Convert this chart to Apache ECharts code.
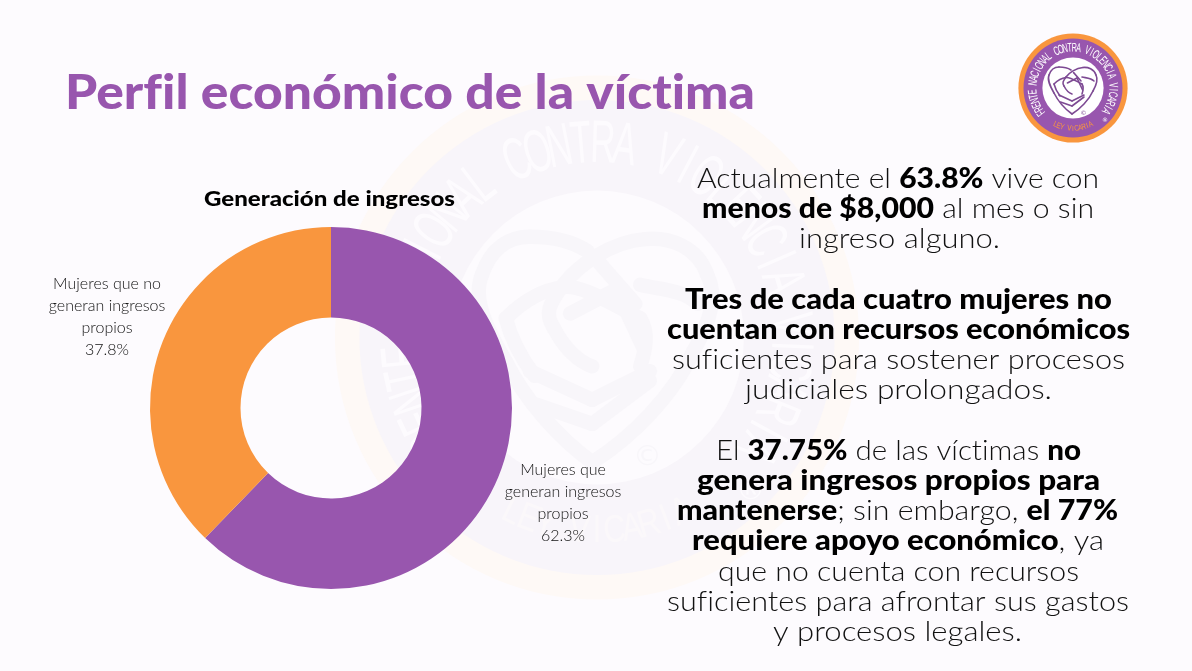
<!DOCTYPE html>
<html><head><meta charset="utf-8">
<style>html,body{margin:0;padding:0;background:#fdfbfe}#c{width:1192px;height:671px}</style>
<script src="https://cdn.jsdelivr.net/npm/echarts@6/dist/echarts.min.js"></script>
</head><body><div id="c"></div>
<script>
const categories = ["Mujeres que\ngeneran ingresos\npropios", "Mujeres que no\ngeneran ingresos\npropios"];
const shareValues = [62.3, 37.8];
const sliceColors = ["#9856ae", "#f9963e"];
const pageTitle = "Perfil económico de la víctima";
const chartTitle = "Generación de ingresos";
const paragraphLines = [
  [["Actualmente el ",0],["63.8%",1],[" vive con",0]],
  [["menos de $8,000",1],[" al mes o sin",0]],
  [["ingreso alguno.",0]],
  null,
  [["Tres de cada cuatro mujeres no",1]],
  [["cuentan con recursos económicos",1]],
  [["suficientes para sostener procesos",0]],
  [["judiciales prolongados.",0]],
  null,
  [["El ",0],["37.75%",1],[" de las víctimas ",0],["no",1]],
  [["genera ingresos propios para",1]],
  [["mantenerse",1],["; sin embargo, ",0],["el 77%",1]],
  [["requiere apoyo económico",1],[", ya",0]],
  [["que no cuenta con recursos",0]],
  [["suficientes para afrontar sus gastos",0]],
  [["y procesos legales.",0]]
];
const lineSpans = [[697,1099],[702,1094],[799,1000],null,[685,1112],[667,1130],[672,1125],[745,1052],null,[716,1081],[697,1100],[677,1118],[692,1104],[718,1079],[667,1129],[773,1022]];
const ringText = "FRENTE NACIONAL CONTRA VIOLENCIA VICARIA";
const ringFooter = "LEY VICARIA";

const FONT = "Lato";
const knotPaths = [
  "M-1 26 C-8 21 -15 13 -19 5 C-23 -2 -26 -8 -24 -13 C-22 -19 -18 -21 -14 -21 C-9 -21 -5 -20 -2 -18",
  "M-1 26 C7 21 16 12 20 3 C24 -4 25 -9 23 -13 C21 -19 15 -21 10 -20.5 C3 -20 -4 -15 -7 -11 C-10 -7 -11 -5 -9 -2 C-7 2 -4 5 -1 6",
  "M-19 -4 C-15 -8 -11 -10 -7 -10.5 C-3 -11 3 -7 9 -4 C11 -1 10 3 9 6",
  "M9 -11 C13 -10 18 -10 21 -7",
  "M-13 8 C-16 4 -18 0 -19 -4",
  "M-14 7 L-1 13 L11 7",
  "M-12.5 14 L-1 18 L11 9",
  "M-5.6 -5 L4 -10 L9.6 2",
  "M0.6 -15.4 L8 -7"
];
function knotElements(d, cx, cy, s, style) {
  const tok = d.match(/[MCL]|-?\d+(?:\.\d+)?/g), out = [];
  let i = 0, px = 0, py = 0, cmd = "";
  const num = () => +tok[i++];
  const X = v => cx + v*s, Y = v => cy + v*s;
  while (i < tok.length) {
    if (/[MCL]/.test(tok[i])) cmd = tok[i++];
    if (cmd === "M") { px = num(); py = num(); }
    else if (cmd === "L") {
      const x = num(), y = num();
      out.push({type:"line", silent:true, z:1, shape:{x1:X(px), y1:Y(py), x2:X(x), y2:Y(y)}, style});
      px = x; py = y;
    } else {
      const a = num(), b = num(), c = num(), e = num(), x = num(), y = num();
      out.push({type:"bezierCurve", silent:true, z:1, shape:{x1:X(px), y1:Y(py), cpx1:X(a), cpy1:Y(b), cpx2:X(c), cpy2:Y(e), x2:X(x), y2:Y(y)}, style});
      px = x; py = y;
    }
  }
  return out;
}
function arcChars(str, cx, cy, r, a0, a1, size, fill, squeeze, flip) {
  const n = str.length, out = [];
  for (let i = 0; i < n; i++) {
    if (str[i] === " ") continue;
    const deg = a0 + (a1 - a0) * i / (n - 1);
    const a = deg * Math.PI / 180;
    out.push({type:"text", silent:true, z:1, x:cx + r*Math.sin(a), y:cy - r*Math.cos(a),
      rotation: flip ? Math.PI - a : -a, scaleX:squeeze,
      style:{text:str[i], fill, align:"center", verticalAlign:"middle", fontFamily:"Liberation Sans", fontSize:size}});
  }
  return out;
}
function fullLogo(cx, cy, s, c) {
  const out = [];
  const circ = (r, fill) => out.push({type:"circle", silent:true, z:1, shape:{cx, cy, r:r*s}, style:{fill}});
  circ(54.6, c.orange); circ(49.5, c.band); circ(30.6, c.center);
  const st = {fill:"none", stroke:c.knot, lineWidth:c.kw*s, lineCap:"round"};
  knotPaths.forEach(d => out.push(...knotElements(d, cx, cy, s, st)));
  out.push(...arcChars(ringText, cx, cy, 40*s, -128, 125, 12.5*s, c.text, 0.58));
  out.push(...arcChars(ringFooter, cx, cy, 40.5*s, 206, 154, 8*s, c.footer, 0.8, true));
  const mark = (t, dx, dy, size, fill) => out.push({type:"text", silent:true, z:1, x:cx+dx*s, y:cy+dy*s,
    style:{text:t, fill, align:"center", verticalAlign:"middle", fontFamily:"DejaVu Sans", fontSize:size*s}});
  mark("©", 10.5, 25, 6, c.knot);
  mark("®", 32, 32, 6, c.text);
  return out;
}

const ctx = document.createElement("canvas").getContext("2d");
const LIGATURE = /(f)(?=[il])|(t)(?=[ité])/g;
// splitting a word into two runs keeps Lato from drawing its fi / ti ligatures
const runs = (t, key) => `{${key}|${t.replace(LIGATURE, `$1$2}{${key}|`)}}`;
const runWidth = t => t.split(/(?<=f(?=[il])|t(?=[ité]))/).reduce((w, p) => w + ctx.measureText(p).width, 0);
function widthOf(segs) {
  return segs.reduce((w, [t, b]) => { ctx.font = `${b ? 900 : 300} 28px "${FONT}"`; return w + runWidth(t); }, 0);
}
function fitted(text, rich, l, r, y, natural) {
  return {type:"text", silent:true, z:10, x:(l + r)/2, y, scaleX:(r - l)/natural,
    style:{text, rich, align:"center", verticalAlign:"middle"}};
}
const LINE_TOP = 179, LINE_STEP = 30.2;
const richBody = {
  l:{fontFamily:FONT, fontWeight:300, fontSize:28, fill:"#111"},
  b:{fontFamily:FONT, fontWeight:900, fontSize:28, fill:"#000"}
};
const paragraph = [];
paragraphLines.forEach((segs, i) => {
  if (!segs) return;
  const text = segs.map(([t, b]) => runs(t, b ? "b" : "l")).join("");
  paragraph.push(fitted(text, richBody, lineSpans[i][0], lineSpans[i][1], LINE_TOP + i*LINE_STEP, widthOf(segs)));
});
ctx.font = `900 48px "${FONT}"`;
const titleEl = fitted(runs(pageTitle, "t"), {t:{fontFamily:FONT, fontWeight:900, fontSize:48, fill:"#9856ae"}}, 65, 755, 94, runWidth(pageTitle));
ctx.font = `900 21px "${FONT}"`;
const subEl = fitted(runs(chartTitle, "t"), {t:{fontFamily:FONT, fontWeight:900, fontSize:21, fill:"#000"}}, 204, 455, 199, runWidth(chartTitle));

const labelSpots = [{x:563, y:503}, {x:107, y:317}];
const chart = echarts.init(document.getElementById("c"), null, {renderer:"canvas"});
chart.setOption({
  backgroundColor:"#fdfbfe",
  animation:false,
  graphic:[
    ...fullLogo(597, 337.5, 4.8, {orange:"#fef9f6", band:"#f8f5fa", center:"#fdfbfe", knot:"#f8f6fa", kw:3, text:"#fdfbfe", footer:"#fbf8fa"}),
    ...fullLogo(1073, 88, 1, {orange:"#f9963e", band:"#9856ae", center:"#ffffff", knot:"#7d4a93", kw:1.6, text:"#ffffff", footer:"#f9963e"}),
    titleEl, subEl,
    ...paragraph
  ],
  series:[{
    type:"pie",
    center:[331, 408],
    radius:[90.5, 181],
    startAngle:90,
    clockwise:true,
    avoidLabelOverlap:false,
    data:categories.map((name, i) => ({name, value:shareValues[i], itemStyle:{color:sliceColors[i]}})),
    label:{show:true, position:"outside", formatter:"{b}\n{c}%", fontFamily:FONT, fontWeight:300, fontSize:16, lineHeight:22, color:"#111", align:"center"},
    labelLine:{show:false},
    labelLayout:p => ({x:labelSpots[p.dataIndex].x, y:labelSpots[p.dataIndex].y, align:"center", verticalAlign:"middle"}),
    emphasis:{disabled:true}
  }]
});
</script></body></html>
